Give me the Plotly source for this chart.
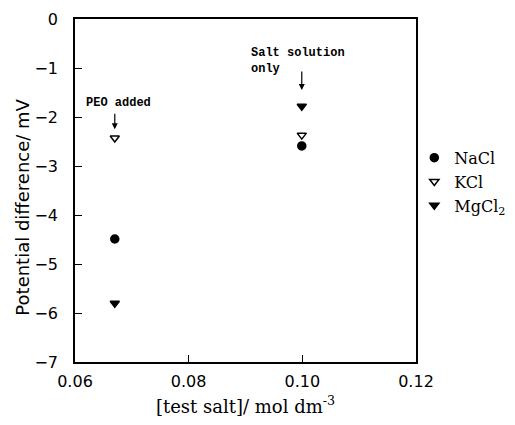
import plotly.graph_objects as go

salts = ["NaCl", "KCl", "MgCl<sub>2</sub>"]
conc = [0.067, 0.0999]
peo_added = [-4.49, -2.43, -5.8]
salt_only = [-2.59, -2.37, -1.78]
symbols = ["circle", "triangle-down-open", "triangle-down"]
sizes = [8, 8, 8]

fig = go.Figure()
for i, s in enumerate(salts):
    fig.add_trace(go.Scatter(
        x=conc, y=[peo_added[i], salt_only[i]], mode="markers", name=s,
        marker=dict(symbol=symbols[i], size=sizes[i], color="black",
                    line=dict(color="black", width=1.5)),
    ))

ann_font = dict(family="Liberation Mono, DejaVu Sans Mono, monospace", size=12, color="black")
fig.add_annotation(x=conc[0], y=-2.25, ax=0, ay=-17, text="", showarrow=True,
                   arrowhead=2, arrowsize=1, arrowwidth=1.2, arrowcolor="black")
fig.add_annotation(x=conc[0], y=-1.72, text="<b>PEO added</b>", showarrow=False,
                   font=ann_font, xanchor="center", yanchor="middle", xshift=4)
fig.add_annotation(x=conc[1], y=-1.45, ax=0, ay=-20, text="", showarrow=True,
                   arrowhead=2, arrowsize=1, arrowwidth=1.2, arrowcolor="black")
fig.add_annotation(x=conc[1], y=-0.85, text="<b>Salt solution<br>only</b>", showarrow=False,
                   font=ann_font, xanchor="center", yanchor="middle", align="left", xshift=-4)

# y-axis title placed as annotation to match reference position
fig.add_annotation(xref="paper", yref="paper", x=0, y=0.45, xshift=-52, text="Potential difference/ mV",
                   textangle=-90, showarrow=False, xanchor="center", yanchor="middle",
                   font=dict(family="DejaVu Sans, sans-serif", size=18, color="black"))

fig.update_layout(
    width=515, height=425,
    margin=dict(l=75, r=99, t=19, b=63, autoexpand=False),
    paper_bgcolor="white", plot_bgcolor="white",
    showlegend=True,
    legend=dict(x=0.995, y=0.645, xanchor="left", yanchor="top",
                font=dict(family="DejaVu Serif, serif", size=16, color="black"),
                bgcolor="rgba(0,0,0,0)", itemwidth=30, tracegroupgap=0),
    xaxis=dict(range=[0.06, 0.12], tickvals=[0.06, 0.08, 0.10, 0.12],
               ticktext=["0.06", "0.08", "0.10", "0.12"],
               ticks="inside", ticklen=7, tickcolor="black", automargin=False,
               showline=True, linecolor="black", linewidth=1.5, mirror=True,
               showgrid=False, zeroline=False, ticklabelstandoff=4,
               tickfont=dict(family="DejaVu Sans, sans-serif", size=16, color="black"),
               title=dict(text="[test salt]/ mol dm<sup>-3</sup>", standoff=10,
                          font=dict(family="DejaVu Serif, serif", size=18, color="black"))),
    yaxis=dict(range=[-7, 0], tickvals=[0, -1, -2, -3, -4, -5, -6, -7],
               ticktext=["0", "\u22121", "\u22122", "\u22123", "\u22124", "\u22125", "\u22126", "\u22127"],
               ticks="inside", ticklen=7, tickcolor="black", automargin=False,
               showline=True, linecolor="black", linewidth=1.5, mirror=True,
               showgrid=False, zeroline=False, ticklabelstandoff=12,
               tickfont=dict(family="DejaVu Sans, sans-serif", size=16, color="black")),
)

fig.write_html("out.html")
